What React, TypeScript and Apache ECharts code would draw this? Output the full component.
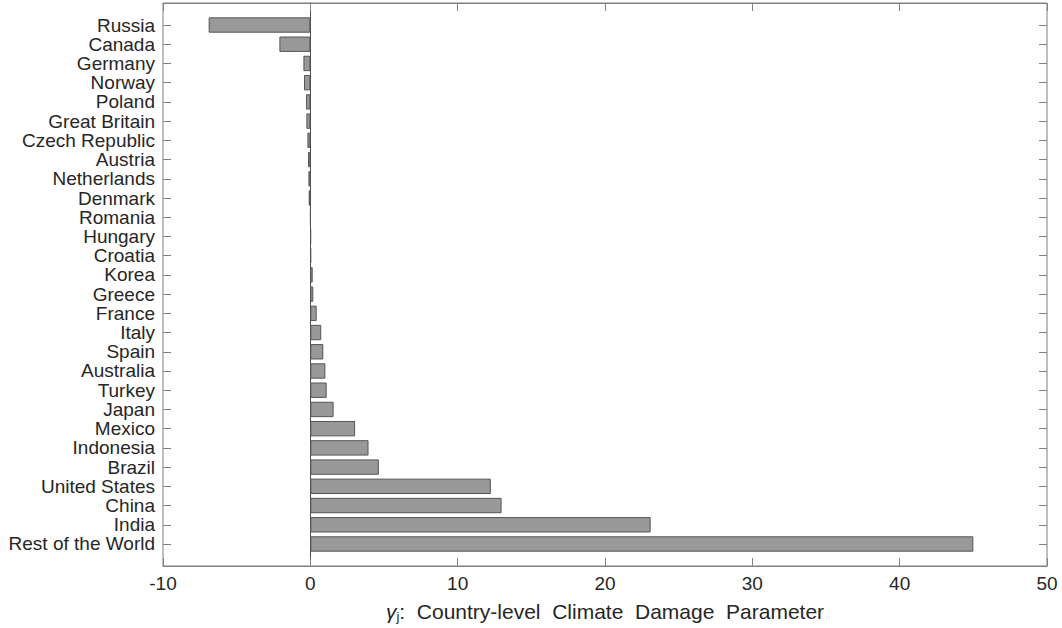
import React, { useEffect, useRef } from "react";
import * as echarts from "echarts";

const countries = [
    "Russia", "Canada", "Germany", "Norway", "Poland", "Great Britain", "Czech Republic",
    "Austria", "Netherlands", "Denmark", "Romania", "Hungary", "Croatia", "Korea", "Greece",
    "France", "Italy", "Spain", "Australia", "Turkey", "Japan", "Mexico", "Indonesia",
    "Brazil", "United States", "China", "India", "Rest of the World",
];
const damageValues = [
    -6.9, -2.1, -0.47, -0.43, -0.29, -0.27, -0.2,
    -0.16, -0.13, -0.11, 0.01, 0.04, 0.05, 0.16, 0.2,
    0.43, 0.74, 0.88, 1.02, 1.11, 1.58, 3.04, 3.95,
    4.65, 12.25, 12.98, 23.1, 45.0,
];
const xMin = -10;
const xMax = 50;
const xStep = 10;

const fontFamily = "'Liberation Sans', Arial, Helvetica, sans-serif";
const textColor = "#262626";
const frameColor = "#808080";

const App: React.FC = () => {
    const chartRef = useRef<HTMLDivElement>(null);

    useEffect(() => {
        document.body.style.margin = "0";
        if (!chartRef.current) return;
        const chart = echarts.init(chartRef.current, undefined, { renderer: "svg" });

        const frameTicks = {
            show: true,
            inside: true,
            length: 8,
            lineStyle: { color: frameColor, width: 1 },
        };

        chart.setOption({
            animation: false,
            textStyle: { fontFamily },
            grid: [
                // outer frame with the x axis
                {
                    left: 163, right: 15, top: 3, bottom: 62,
                    show: true, borderColor: frameColor, borderWidth: 1,
                },
                // bar area, padded inside the frame
                { left: 163, right: 15, top: 15.4, bottom: 74.4 },
            ],
            xAxis: [
                {
                    gridIndex: 0,
                    type: "value",
                    position: "bottom",
                    min: xMin, max: xMax, interval: xStep,
                    axisLine: { show: true, lineStyle: { color: frameColor, width: 1 } },
                    axisTick: frameTicks,
                    splitLine: { show: false },
                    axisLabel: { color: textColor, fontSize: 19, margin: 8 },
                    name: "{g|γ}{s|j}{t|:  Country-level  Climate  Damage  Parameter}",
                    nameLocation: "middle",
                    nameGap: 33,
                    nameTextStyle: {
                        color: textColor,
                        rich: {
                            g: { fontStyle: "italic", fontSize: 21, lineHeight: 24, color: textColor, fontFamily },
                            s: { fontSize: 13, lineHeight: 13, verticalAlign: "bottom", color: textColor, fontFamily },
                            t: { fontSize: 21, lineHeight: 24, color: textColor, fontFamily },
                        },
                    },
                },
                {
                    gridIndex: 0,
                    type: "value",
                    position: "top",
                    min: xMin, max: xMax, interval: xStep,
                    axisLine: { show: true, lineStyle: { color: frameColor, width: 1 } },
                    axisTick: frameTicks,
                    splitLine: { show: false },
                    axisLabel: { show: false },
                },
                {
                    gridIndex: 1,
                    type: "value",
                    min: xMin, max: xMax, interval: xStep,
                    show: false,
                },
            ],
            yAxis: [
                // zero line across the full frame height
                {
                    gridIndex: 0,
                    type: "value",
                    min: 0, max: 1,
                    axisLine: { show: true, onZero: true, onZeroAxisIndex: 0, lineStyle: { color: "#4d4d4d", width: 1 } },
                    axisTick: { show: false },
                    axisLabel: { show: false },
                    splitLine: { show: false },
                },
                {
                    gridIndex: 1,
                    type: "category",
                    data: countries,
                    inverse: true,
                    position: "left",
                    axisLine: { show: false, onZero: false },
                    axisTick: { ...frameTicks, alignWithLabel: true, interval: 0 },
                    axisLabel: { color: textColor, fontSize: 19, margin: 8, interval: 0 },
                },
                {
                    gridIndex: 1,
                    type: "category",
                    data: countries,
                    inverse: true,
                    position: "right",
                    axisLine: { show: false, onZero: false },
                    axisTick: { ...frameTicks, alignWithLabel: true, interval: 0 },
                    axisLabel: { show: false, interval: 0 },
                },
            ],
            series: [
                {
                    type: "bar",
                    xAxisIndex: 2,
                    yAxisIndex: 1,
                    data: damageValues,
                    barWidth: "80%",
                    itemStyle: { color: "#999999", borderColor: "#555555", borderWidth: 1 },
                },
            ],
        });

        return () => {
            chart.dispose();
        };
    }, []);

    return <div ref={chartRef} style={{ width: 1062, height: 628 }} />;
};

export default App;
